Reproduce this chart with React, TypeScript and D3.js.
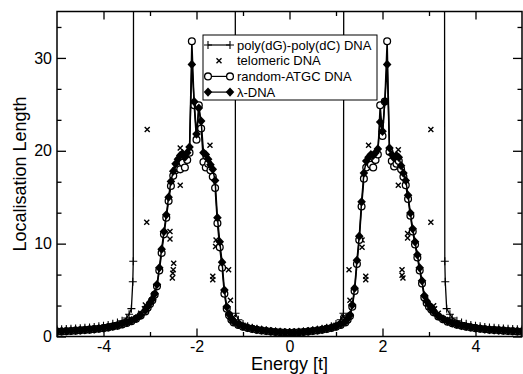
import * as d3 from 'd3'
import { useEffect, useRef } from 'react'

// energy grid shared by random-ATGC and lambda-DNA
const energies = [
  -5.0, -4.9, -4.8, -4.7, -4.6, -4.5, -4.4, -4.3, -4.2, -4.1, -4.0, -3.9, -3.8, -3.7, -3.6, -3.5, -3.4, -3.3, -3.2, -3.1,
  -3.05, -3.0, -2.95, -2.9, -2.85, -2.8, -2.75, -2.7, -2.65, -2.6, -2.55, -2.5, -2.45, -2.4, -2.35, -2.3, -2.25, -2.2, -2.15,
  -2.1, -2.05, -2.0, -1.95, -1.9, -1.85, -1.8, -1.75, -1.7, -1.65, -1.6, -1.55, -1.5, -1.45, -1.4, -1.35, -1.3, -1.25,
  -1.2, -1.1, -1.0, -0.9, -0.8, -0.7, -0.6, -0.5, -0.4, -0.3, -0.2, -0.1, 0, 0.1, 0.2, 0.3, 0.4, 0.5, 0.6, 0.7, 0.8, 0.9, 1.0, 1.1, 1.2,
  1.25, 1.3, 1.35, 1.4, 1.45, 1.5, 1.55, 1.6, 1.65, 1.7, 1.75, 1.8, 1.85, 1.9, 1.95, 2.0, 2.05, 2.1, 2.15,
  2.2, 2.25, 2.3, 2.35, 2.4, 2.45, 2.5, 2.55, 2.6, 2.65, 2.7, 2.75, 2.8, 2.85, 2.9, 2.95, 3.0, 3.05,
  3.1, 3.2, 3.3, 3.4, 3.5, 3.6, 3.7, 3.8, 3.9, 4.0, 4.1, 4.2, 4.3, 4.4, 4.5, 4.6, 4.7, 4.8, 4.9, 5.0,
]

const lambdaDNA = [
  0.55, 0.57, 0.6, 0.62, 0.65, 0.68, 0.72, 0.76, 0.8, 0.86, 0.92, 1.0, 1.1, 1.2, 1.35, 1.5, 1.7, 1.95, 2.3, 2.8,
  3.2, 3.6, 4.0, 4.6, 5.6, 7.4, 9.4, 11.3, 13.1, 15.0, 16.7, 17.8, 18.6, 19.1, 19.5, 19.7, 19.3, 19.8, 20.4,
  29.3, 25.3, 21.8, 24.6, 23.2, 19.8, 19.6, 19.1, 18.5, 18.0, 16.8, 12.8, 10.2, 8.0, 5.0, 3.2, 2.4, 1.9,
  1.6, 1.3, 1.1, 0.95, 0.85, 0.75, 0.68, 0.62, 0.56, 0.5, 0.46, 0.43, 0.42, 0.43, 0.46, 0.5, 0.56, 0.62, 0.68, 0.75, 0.85, 0.95, 1.1, 1.3, 1.6,
  1.9, 2.3, 3.4, 5.2, 8.2, 10.8, 14.5, 17.6, 18.9, 19.3, 19.6, 19.5, 19.8, 20.2, 23.1, 22.1, 25.3, 29.3, 20.3,
  19.6, 19.2, 19.5, 19.3, 18.4, 17.6, 16.8, 15.2, 13.3, 11.6, 10.2, 8.8, 7.4, 6.0, 4.4, 3.8, 3.4, 3.0,
  2.7, 2.2, 1.9, 1.65, 1.45, 1.3, 1.18, 1.08, 1.0, 0.92, 0.86, 0.8, 0.75, 0.71, 0.68, 0.65, 0.62, 0.6, 0.57, 0.55,
]

const randomATGC = [
  0.52, 0.54, 0.57, 0.6, 0.63, 0.66, 0.7, 0.74, 0.79, 0.84, 0.9, 0.98, 1.07, 1.17, 1.3, 1.45, 1.65, 1.9, 2.25, 2.7,
  3.1, 3.5, 3.9, 4.5, 5.4, 7.1, 9.0, 11.0, 12.8, 14.6, 16.2, 17.3, 17.9, 18.3, 18.0, 18.7, 18.2, 19.0, 19.8,
  31.8, 24.9, 21.2, 24.9, 22.4, 18.8, 18.2, 18.6, 17.9, 17.2, 16.0, 12.2, 9.6, 7.4, 4.6, 3.0, 2.3, 1.8,
  1.5, 1.25, 1.05, 0.92, 0.82, 0.72, 0.65, 0.6, 0.54, 0.49, 0.45, 0.42, 0.41, 0.42, 0.45, 0.49, 0.54, 0.6, 0.65, 0.72, 0.82, 0.92, 1.05, 1.25, 1.5,
  1.8, 2.2, 3.2, 4.9, 7.8, 10.4, 14.0, 17.0, 18.2, 18.8, 18.5, 18.2, 19.0, 19.6, 24.9, 21.6, 25.3, 31.8, 19.9,
  18.9, 18.3, 18.6, 18.9, 18.0, 17.2, 16.3, 14.8, 13.0, 11.3, 9.9, 8.5, 7.1, 5.7, 4.2, 3.6, 3.2, 2.9,
  2.6, 2.15, 1.85, 1.6, 1.42, 1.27, 1.15, 1.05, 0.97, 0.9, 0.84, 0.78, 0.73, 0.69, 0.66, 0.63, 0.6, 0.57, 0.54, 0.52,
]

// poly(dG)-poly(dC): diverges inside the two bands (values of 60 are off scale)
const polyEnergy = [
  -5.0, -4.9, -4.8, -4.7, -4.6, -4.5, -4.4, -4.3, -4.2, -4.1, -4.0, -3.9, -3.8, -3.7, -3.6, -3.5, -3.45, -3.4, -3.37, -3.36, -3.35,
  -1.17, -1.16, -1.1, -1.0, -0.9, -0.8, -0.7, -0.6, -0.5, -0.4, -0.3, -0.2, -0.1, 0, 0.1, 0.2, 0.3, 0.4, 0.5, 0.6, 0.7, 0.8, 0.9, 1.0, 1.1, 1.16, 1.17,
  3.33, 3.34, 3.35, 3.38, 3.45, 3.5, 3.6, 3.7, 3.8, 3.9, 4.0, 4.1, 4.2, 4.3, 4.4, 4.5, 4.6, 4.7, 4.8, 4.9, 5.0,
]
const polyDNA = [
  0.75, 0.78, 0.8, 0.83, 0.86, 0.9, 0.94, 0.98, 1.03, 1.1, 1.17, 1.25, 1.36, 1.5, 1.7, 2.0, 2.4, 3.0, 5.9, 8.1, 60,
  60, 2.5, 1.8, 1.35, 1.1, 0.95, 0.83, 0.74, 0.67, 0.6, 0.55, 0.51, 0.49, 0.48, 0.49, 0.51, 0.55, 0.6, 0.67, 0.74, 0.83, 0.95, 1.1, 1.35, 1.8, 2.5, 60,
  60, 8.1, 5.9, 3.0, 2.4, 2.0, 1.7, 1.5, 1.36, 1.25, 1.17, 1.1, 1.03, 0.98, 0.94, 0.9, 0.86, 0.83, 0.8, 0.78, 0.75,
]

const teloEnergy = [
  -5.0, -4.8, -4.6, -4.4, -4.2, -4.0, -3.8, -3.6, -3.4, -3.2, -3.12, -3.1, -3.07, -3.06, -2.57, -2.57, -2.49, -2.5, -2.51, -2.52,
  -2.35, -2.35, -1.71, -1.58, -1.59, -1.65, -1.65, -1.31, -1.27, -1.21, -1.0, -0.8, -0.6, -0.4, -0.2, 0, 0.2, 0.4, 0.6, 0.8,
  1.0, 1.16, 1.28, 1.3, 1.56, 1.56, 1.64, 1.64, 1.7, 2.34, 2.34, 2.42, 2.42, 2.44, 2.54, 2.54, 3.04, 3.04, 3.1, 3.12,
  3.2, 3.4, 3.6, 3.8, 4.0, 4.2, 4.4, 4.6, 4.8, 5.0,
]
const telomericDNA = [
  0.6, 0.65, 0.7, 0.78, 0.86, 0.98, 1.15, 1.4, 1.8, 2.5, 3.0, 3.4, 12.3, 22.3, 11.3, 10.5, 7.9, 7.2, 6.8, 6.3,
  20.3, 16.3, 20.6, 10.4, 9.7, 6.5, 6.1, 7.2, 3.9, 2.1, 1.2, 0.9, 0.72, 0.6, 0.5, 0.47, 0.5, 0.6, 0.72, 0.9,
  1.2, 2.1, 7.2, 3.9, 10.4, 9.6, 6.5, 6.1, 20.6, 20.1, 16.3, 7.2, 6.6, 6.3, 11.1, 10.6, 22.3, 12.3, 3.3, 3.0,
  2.5, 1.8, 1.4, 1.15, 0.98, 0.86, 0.78, 0.7, 0.65, 0.6,
]

const xMajor = [-4, -2, 0, 2, 4]
const xMinor = [-3, -1, 1, 3]
const yMajor = [0, 10, 20, 30]
const yMinor = [10 / 3, 20 / 3, 40 / 3, 50 / 3, 70 / 3, 80 / 3, 100 / 3]

const legendLabels = ['poly(dG)-poly(dC) DNA', 'telomeric DNA', 'random-ATGC DNA', 'λ-DNA']

const FONT = '"Liberation Sans", Arial, Helvetica, sans-serif'

type Pt = [number, number]

export default function App() {
  const ref = useRef<SVGSVGElement | null>(null)

  useEffect(() => {
    if (!ref.current) return
    const svg = d3.select(ref.current)
    svg.selectAll('*').remove()

    const left = 57, right = 522, top = 11.5, bottom = 336.5

    const x = d3.scaleLinear().domain([-5, 5]).range([left, right])
    const y = d3.scaleLinear().domain([0, 35]).range([bottom, top])

    svg.append('defs').append('clipPath').attr('id', 'plot-clip')
      .append('rect')
      .attr('x', left).attr('y', top)
      .attr('width', right - left).attr('height', bottom - top)

    const line = d3.line<Pt>().x(d => x(d[0])).y(d => y(d[1]))

    const plus = (g: any, cx: number, cy: number) =>
      g.append('path')
        .attr('d', `M${cx - 4},${cy}H${cx + 4}M${cx},${cy - 4}V${cy + 4}`)
        .attr('stroke', '#000').attr('stroke-width', 1.1)
    const cross = (g: any, cx: number, cy: number) =>
      g.append('path')
        .attr('d', `M${cx - 2.5},${cy - 2.5}L${cx + 2.5},${cy + 2.5}M${cx - 2.5},${cy + 2.5}L${cx + 2.5},${cy - 2.5}`)
        .attr('stroke', '#000').attr('stroke-width', 1.4)
    const circle = (g: any, cx: number, cy: number) =>
      g.append('circle').attr('cx', cx).attr('cy', cy).attr('r', 3.4)
        .attr('fill', '#fff').attr('stroke', '#000').attr('stroke-width', 1.3)
    const diamond = (g: any, cx: number, cy: number) =>
      g.append('path')
        .attr('d', `M${cx},${cy - 4.6}L${cx + 4.3},${cy}L${cx},${cy + 4.6}L${cx - 4.3},${cy}Z`)
        .attr('fill', '#000')

    const plot = svg.append('g').attr('clip-path', 'url(#plot-clip)')

    // poly(dG)-poly(dC)
    const polyPts: Pt[] = polyEnergy.map((e, i) => [e, polyDNA[i]])
    plot.append('path').datum(polyPts).attr('d', line)
      .attr('fill', 'none').attr('stroke', '#000').attr('stroke-width', 1.3)
    polyPts.forEach(d => plus(plot, x(d[0]), y(d[1])))

    // telomeric: symbols only
    teloEnergy.forEach((e, i) => cross(plot, x(e), y(telomericDNA[i])))

    // random-ATGC
    const randPts: Pt[] = energies.map((e, i) => [e, randomATGC[i]])
    plot.append('path').datum(randPts).attr('d', line)
      .attr('fill', 'none').attr('stroke', '#000').attr('stroke-width', 1.5)
    randPts.forEach(d => circle(plot, x(d[0]), y(d[1])))

    // lambda-DNA
    const lamPts: Pt[] = energies.map((e, i) => [e, lambdaDNA[i]])
    plot.append('path').datum(lamPts).attr('d', line)
      .attr('fill', 'none').attr('stroke', '#000').attr('stroke-width', 1.5)
    lamPts.forEach(d => diamond(plot, x(d[0]), y(d[1])))

    // axes, ticks pointing inwards on all four sides
    const fmt = (d: any) => String(d)
    const styleAxis = (g: any) => {
      g.select('.domain').remove()
      g.selectAll('line').attr('stroke', '#000').attr('stroke-width', 1.3)
      g.selectAll('text').attr('font-family', FONT).attr('font-size', 16).attr('fill', '#000')
    }
    svg.append('g').attr('transform', `translate(0,${bottom})`)
      .call(d3.axisBottom(x).tickValues(xMajor).tickSize(-8).tickPadding(4).tickFormat(fmt)).call(styleAxis)
    svg.append('g').attr('transform', `translate(0,${bottom})`)
      .call(d3.axisBottom(x).tickValues(xMinor).tickSize(-4.5).tickFormat(() => '')).call(styleAxis)
    svg.append('g').attr('transform', `translate(0,${top})`)
      .call(d3.axisTop(x).tickValues(xMajor).tickSize(-8).tickFormat(() => '')).call(styleAxis)
    svg.append('g').attr('transform', `translate(0,${top})`)
      .call(d3.axisTop(x).tickValues(xMinor).tickSize(-4.5).tickFormat(() => '')).call(styleAxis)
    svg.append('g').attr('transform', `translate(${left},0)`)
      .call(d3.axisLeft(y).tickValues(yMajor).tickSize(-9).tickPadding(5).tickFormat(fmt)).call(styleAxis)
    svg.append('g').attr('transform', `translate(${left},0)`)
      .call(d3.axisLeft(y).tickValues(yMinor).tickSize(-4.5).tickFormat(() => '')).call(styleAxis)
    svg.append('g').attr('transform', `translate(${right},0)`)
      .call(d3.axisRight(y).tickValues(yMajor).tickSize(-9).tickFormat(() => '')).call(styleAxis)
    svg.append('g').attr('transform', `translate(${right},0)`)
      .call(d3.axisRight(y).tickValues(yMinor).tickSize(-4.5).tickFormat(() => '')).call(styleAxis)

    svg.append('rect')
      .attr('x', left).attr('y', top)
      .attr('width', right - left).attr('height', bottom - top)
      .attr('fill', 'none').attr('stroke', '#000').attr('stroke-width', 1.5)

    svg.append('text')
      .attr('x', (left + right) / 2).attr('y', 370)
      .attr('text-anchor', 'middle')
      .attr('font-family', FONT).attr('font-size', 18)
      .text('Energy [t]')
    svg.append('text')
      .attr('transform', `translate(26,${(top + bottom) / 2}) rotate(-90)`)
      .attr('text-anchor', 'middle')
      .attr('font-family', FONT).attr('font-size', 18)
      .text('Localisation Length')

    // legend
    const lg = svg.append('g')
    lg.append('rect')
      .attr('x', 203).attr('y', 35).attr('width', 174).attr('height', 65)
      .attr('fill', '#fff').attr('stroke', '#000').attr('stroke-width', 1)
    legendLabels.forEach((label, i) => {
      const cy = 45 + i * 15.7
      if (i !== 1) {
        lg.append('line').attr('x1', 208).attr('x2', 230).attr('y1', cy).attr('y2', cy)
          .attr('stroke', '#000').attr('stroke-width', 1.2)
      }
      if (i === 0) { plus(lg, 208, cy); plus(lg, 230, cy) }
      if (i === 1) cross(lg, 219, cy)
      if (i === 2) { circle(lg, 208, cy); circle(lg, 230, cy) }
      if (i === 3) { diamond(lg, 208, cy); diamond(lg, 230, cy) }
      lg.append('text')
        .attr('x', 237).attr('y', cy + 4.7)
        .attr('font-family', FONT).attr('font-size', 13)
        .text(label)
    })
  }, [])

  return (
    <svg
      ref={ref}
      width={523}
      height={374}
      style={{ position: 'absolute', left: 0, top: 0, background: '#fff' }}
    />
  )
}
